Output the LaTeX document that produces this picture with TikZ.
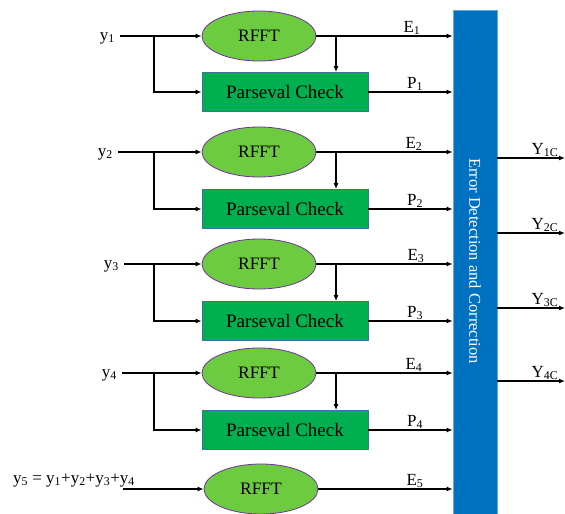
\documentclass[tikz,border=0pt]{standalone}
\usepackage{fontspec}
\setmainfont{Liberation Serif}
\usetikzlibrary{arrows.meta,shapes.geometric,calc}
\definecolor{ellgreen}{HTML}{6CCB3E}
\definecolor{ellborder}{HTML}{7030A0}
\definecolor{boxgreen}{HTML}{00B050}
\definecolor{boxborder}{HTML}{41719C}
\definecolor{barblue}{HTML}{0070C0}
\tikzset{
  fftnode/.style={ellipse,draw=ellborder,fill=ellgreen,line width=0.8pt,minimum width=114pt,minimum height=50pt,inner sep=0pt,font=\fontsize{17.5}{20}\selectfont},
  pcbox/.style={rectangle,draw=boxborder,fill=boxgreen,line width=0.8pt,minimum width=166pt,minimum height=39pt,inner sep=0pt,font=\fontsize{19}{22}\selectfont},
  wire/.style={line width=1.5pt,black},
  arr/.style={wire,-{Latex[length=6pt,width=5pt]}},
  lbl/.style={font=\fontsize{17}{19}\selectfont,inner sep=1pt},
}
\begin{document}
\begin{tikzpicture}[x=1pt,y=-1pt]
\useasboundingbox (0,0) rectangle (565,514);
\node[rectangle,draw=barblue!60!white,fill=barblue,line width=0.6pt,minimum width=44pt,minimum height=510pt,anchor=north,inner sep=0pt] (bar) at (475,10) {};
\node[rotate=-90,text=white,font=\fontsize{16.5}{19}\selectfont] (bartext) at (475,261) {Error Detection and Correction};
% rows
\foreach \i/\ey/\by/\sx/\ex/\px in {1/36/92/120/412/415,2/152/209/118/414/415,3/264/321/124/416/415,4/373/430/122/414/415}{
  \coordinate (s\i) at (\sx,\ey);
  \node[lbl,anchor=east] (y\i) at ($(s\i)+(-4,2)$) {y\textsubscript{\i}};
  \node[fftnode] (f\i) at (259,\ey) {RFFT};
  \node[pcbox] (p\i) at (285,\by) {Parseval Check};
  \coordinate (b\i) at (154,\ey);
  \coordinate (d\i) at (336,\ey);
  \draw[arr] (s\i) -- (f\i.west);
  \draw[arr] (b\i) |- (p\i.west);
  \draw[arr] (f\i.east) -- (f\i.east -| bar.west);
  \draw[arr] (d\i) -- (d\i |- p\i.north);
  \draw[arr] (p\i.east) -- (p\i.east -| bar.west);
  \node[lbl,anchor=south] (el\i) at (\ex,\ey) {E\textsubscript{\i}};
  \node[lbl,anchor=south] (pl\i) at (\px,\by) {P\textsubscript{\i}};
}
% row 5
\coordinate (s5) at (123,489);
\node[lbl,anchor=base west] (y5) at (12,483) {y\textsubscript{5} = y\textsubscript{1}+y\textsubscript{2}+y\textsubscript{3}+y\textsubscript{4}};
\node[fftnode] (f5) at (261,489) {RFFT};
\draw[arr] (s5) -- (f5.west);
\draw[arr] (f5.east) -- (f5.east -| bar.west);
\node[lbl,anchor=south] (el5) at (415,489) {E\textsubscript{5}};
% outputs
\foreach \j/\oy in {1/158,2/233,3/308,4/381}{
  \coordinate (o\j) at (565,\oy);
  \draw[arr] (bar.east |- o\j) -- (o\j);
  \node[lbl,anchor=south] (ol\j) at (545,\oy) {Y\textsubscript{\j C}};
}
\end{tikzpicture}
\end{document}
